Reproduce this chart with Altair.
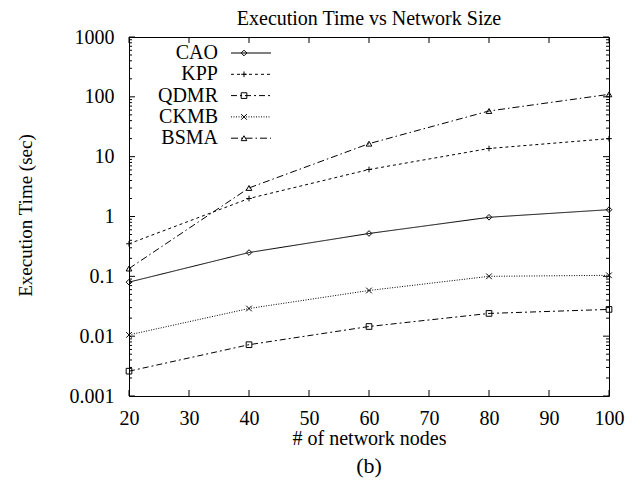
import altair as alt
import pandas as pd

nodes = [20, 40, 60, 80, 100]
series_names = ["CAO", "KPP", "QDMR", "CKMB", "BSMA"]
cao = [0.08, 0.25, 0.52, 0.97, 1.3]
kpp = [0.35, 2.0, 6.1, 13.7, 20.0]
qdmr = [0.0026, 0.0072, 0.0145, 0.024, 0.028]
ckmb = [0.0105, 0.029, 0.058, 0.1, 0.104]
bsma = [0.135, 3.0, 16.5, 58.0, 110.0]

x_ticks = [20, 30, 40, 50, 60, 70, 80, 90, 100]
y_ticks = [0.001, 0.01, 0.1, 1, 10, 100, 1000]
y_minor = [m * d for d in [0.001, 0.01, 0.1, 1, 10, 100] for m in range(2, 10)]

dashes = [[1, 0], [3, 3], [6, 3, 2, 3], [1, 1.5], [7, 3, 1.5, 3]]
shapes = [
    "diamond",
    "M-1,0L1,0M0,-1L0,1",
    "square",
    "M-1,-1L1,1M-1,1L1,-1",
    "triangle-up",
]

W, H = 480, 359
FONT = "Liberation Serif"

rows = []
for name, vals in zip(series_names, [cao, kpp, qdmr, ckmb, bsma]):
    for n, v in zip(nodes, vals):
        rows.append({"series": name, "nodes": n, "time": v})
df = pd.DataFrame(rows)

x_scale = alt.Scale(domain=[20, 100], nice=False, zero=False)
y_scale = alt.Scale(type="log", domain=[0.001, 1000], nice=False)
dash_scale = alt.Scale(domain=series_names, range=dashes)
shape_scale = alt.Scale(domain=series_names, range=shapes)

x_axis = alt.Axis(
    values=x_ticks, ticks=False, grid=False, domain=False, labelFlush=False,
    labelFont=FONT, labelFontSize=20, labelColor="black", labelPadding=12,
    title="# of network nodes", titleFont=FONT, titleFontSize=20,
    titleFontWeight="normal", titleColor="black",
    titleX=W / 2, titleY=42, titleBaseline="middle", titleAlign="center",
)
y_axis = alt.Axis(
    values=y_ticks, ticks=False, grid=False, domain=False, labelFlush=False,
    labelExpr="format(datum.value, '~g')",
    labelFont=FONT, labelFontSize=20, labelColor="black", labelPadding=15,
    title="Execution Time (sec)", titleFont=FONT, titleFontSize=19,
    titleFontWeight="normal", titleColor="black",
    titleX=-104, titleY=178, titleAngle=-90, titleBaseline="middle",
    titleAlign="center",
)

X = alt.X("nodes:Q", scale=x_scale, axis=x_axis)
Y = alt.Y("time:Q", scale=y_scale, axis=y_axis)

lines = alt.Chart(df).mark_line(stroke="black", strokeWidth=1).encode(
    x=X, y=Y,
    strokeDash=alt.StrokeDash("series:N", scale=dash_scale, legend=None),
    detail="series:N",
)
points = alt.Chart(df).mark_point(
    filled=False, stroke="black", strokeWidth=1, size=32, opacity=1
).encode(
    x=X, y=Y,
    shape=alt.Shape("series:N", scale=shape_scale, legend=None),
)

xt = pd.DataFrame({"nodes": x_ticks})
yt = pd.DataFrame({"time": y_ticks})
ym = pd.DataFrame({"time": y_minor})

def xtick(y0, y1):
    return alt.Chart(xt).mark_rule(stroke="black", strokeWidth=1).encode(
        x=X, y=alt.value(y0), y2=alt.value(y1),
    )

def ytick(data, x0, x1):
    return alt.Chart(data).mark_rule(stroke="black", strokeWidth=1).encode(
        y=Y, x=alt.value(x0), x2=alt.value(x1),
    )

ticks = [
    xtick(H, H - 6), xtick(0, 6),
    ytick(yt, 0, 6), ytick(yt, W, W - 6),
    ytick(ym, 0, 3), ytick(ym, W, W - 3),
]

leg = pd.DataFrame({"series": series_names})
leg["ly"] = [16 + 21.3 * i for i in range(len(series_names))]

leg_text = alt.Chart(leg).mark_text(
    align="right", baseline="middle", font=FONT, fontSize=20, color="black"
).encode(
    x=alt.value(89),
    y=alt.Y("ly:Q", scale=None, axis=None),
    text="series:N",
)
leg_line = alt.Chart(leg).mark_rule(stroke="black", strokeWidth=1).encode(
    x=alt.value(102), x2=alt.value(142),
    y=alt.Y("ly:Q", scale=None, axis=None),
    strokeDash=alt.StrokeDash("series:N", scale=dash_scale, legend=None),
)
leg_pt = alt.Chart(leg).mark_point(
    filled=False, stroke="black", strokeWidth=1, size=32, opacity=1
).encode(
    x=alt.value(115),
    y=alt.Y("ly:Q", scale=None, axis=None),
    shape=alt.Shape("series:N", scale=shape_scale, legend=None),
)

label_b = alt.Chart(pd.DataFrame({"t": ["(b)"]})).mark_text(
    align="center", baseline="middle", font=FONT, fontSize=22, color="black"
).encode(
    x=alt.value(W / 2), y=alt.value(H + 70), text="t:N",
)

chart = alt.layer(
    lines, points, *ticks, leg_text, leg_line, leg_pt, label_b
).properties(
    width=W, height=H,
    background="white",
    title=alt.TitleParams(
        "Execution Time vs Network Size", font=FONT, fontSize=20,
        fontWeight="normal", color="black", offset=-2, anchor="middle",
    ),
    autosize=alt.AutoSizeParams(type="none"),
    padding={"left": 121, "top": 29, "right": 16, "bottom": 90},
).configure_view(
    stroke="black", strokeWidth=1
)

chart.save("out.html", embed_options={"renderer": "svg", "actions": False})
